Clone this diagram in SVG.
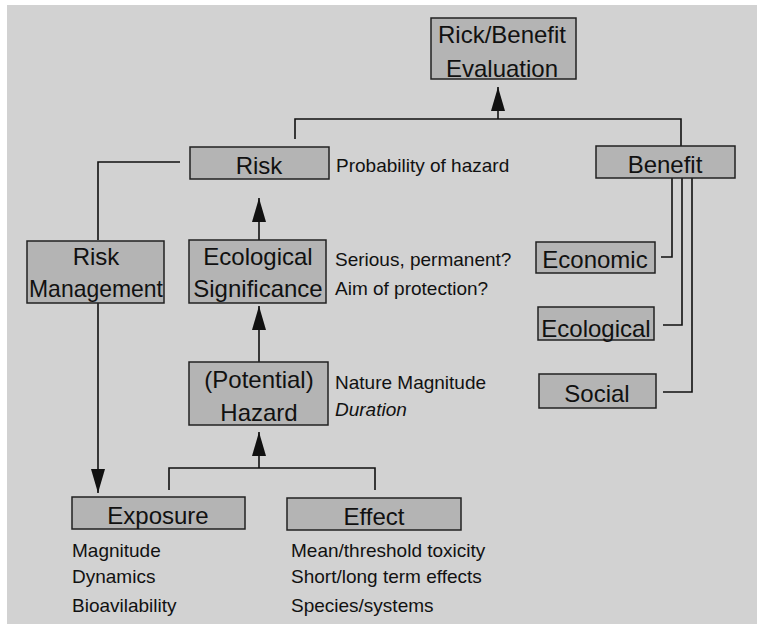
<svg xmlns="http://www.w3.org/2000/svg" width="757" height="624" viewBox="0 0 757 624">
<style>
.bg{fill:#d2d2d2}
.box{fill:#b4b4b4;stroke:#222;stroke-width:1.5}
.bl{font-family:"Liberation Sans",Arial,sans-serif;font-size:24px;fill:#111;text-anchor:middle}
.an{font-family:"Liberation Sans",Arial,sans-serif;font-size:19px;fill:#111}
.ln{fill:none;stroke:#111;stroke-width:1.6}
</style>
<defs>
<marker id="ah" viewBox="0 0 24 14" refX="24" refY="7" markerWidth="24" markerHeight="14" markerUnits="userSpaceOnUse" orient="auto">
<path d="M0,0 L24,7 L0,14 z" fill="#111"/>
</marker>
</defs>
<rect x="0" y="0" width="757" height="624" fill="#ffffff"/>
<rect class="bg" x="7" y="5" width="750" height="619"/>

<g id="connectors">
<polyline class="ln" points="295,139 295,119 681,119 681,146"/>
<line class="ln" x1="498" y1="119" x2="498" y2="87" marker-end="url(#ah)"/>
<polyline class="ln" points="180,162 98,162 98,240"/>
<line class="ln" x1="98" y1="303" x2="98" y2="493" marker-end="url(#ah)"/>
<line class="ln" x1="259" y1="240" x2="259" y2="198" marker-end="url(#ah)"/>
<line class="ln" x1="259" y1="362" x2="259" y2="306" marker-end="url(#ah)"/>
<polyline class="ln" points="169,490 169,468 375,468 375,490"/>
<line class="ln" x1="259" y1="468" x2="259" y2="432" marker-end="url(#ah)"/>
<polyline class="ln" points="672,178 672,257 661,257"/>
<polyline class="ln" points="682,178 682,325 663,325"/>
<polyline class="ln" points="692,178 692,392 663,392"/>
</g>

<g id="evaluation">
<rect class="box" x="431" y="18" width="145" height="61"/>
<text class="bl" x="502" y="43">Rick/Benefit</text>
<text class="bl" x="502" y="77">Evaluation</text>
</g>

<g id="risk">
<rect class="box" x="190" y="147" width="139" height="32"/>
<text class="bl" x="259" y="174">Risk</text>
<text class="an" x="336" y="172">Probability of hazard</text>
</g>

<g id="benefit">
<rect class="box" x="596" y="146" width="139" height="32"/>
<text class="bl" x="665" y="173">Benefit</text>
</g>

<g id="risk-management">
<rect class="box" x="27" y="241" width="137" height="62"/>
<text class="bl" x="96" y="265">Risk</text>
<text class="bl" x="96" y="297" textLength="134" lengthAdjust="spacingAndGlyphs">Management</text>
</g>

<g id="ecological-significance">
<rect class="box" x="189" y="240" width="137" height="63"/>
<text class="bl" x="258" y="265">Ecological</text>
<text class="bl" x="258" y="297">Significance</text>
<text class="an" x="335" y="266">Serious, permanent?</text>
<text class="an" x="335" y="295">Aim of protection?</text>
</g>

<g id="hazard">
<rect class="box" x="189" y="362" width="139" height="63"/>
<text class="bl" x="259" y="388">(Potential)</text>
<text class="bl" x="259" y="421">Hazard</text>
<text class="an" x="335" y="389">Nature Magnitude</text>
<text class="an" x="335" y="416" font-style="italic">Duration</text>
</g>

<g id="economic">
<rect class="box" x="536" y="242" width="119" height="31"/>
<text class="bl" x="595" y="268">Economic</text>
</g>

<g id="ecological">
<rect class="box" x="538" y="307" width="116" height="33"/>
<text class="bl" x="596" y="337">Ecological</text>
</g>

<g id="social">
<rect class="box" x="539" y="374" width="117" height="34"/>
<text class="bl" x="597" y="402">Social</text>
</g>

<g id="exposure">
<rect class="box" x="72" y="497" width="173" height="32"/>
<text class="bl" x="158" y="524">Exposure</text>
<text class="an" x="72" y="557">Magnitude</text>
<text class="an" x="72" y="583">Dynamics</text>
<text class="an" x="72" y="612">Bioavilability</text>
</g>

<g id="effect">
<rect class="box" x="287" y="498" width="174" height="32"/>
<text class="bl" x="374" y="525">Effect</text>
<text class="an" x="291" y="557">Mean/threshold toxicity</text>
<text class="an" x="291" y="583">Short/long term effects</text>
<text class="an" x="291" y="612">Species/systems</text>
</g>
</svg>
